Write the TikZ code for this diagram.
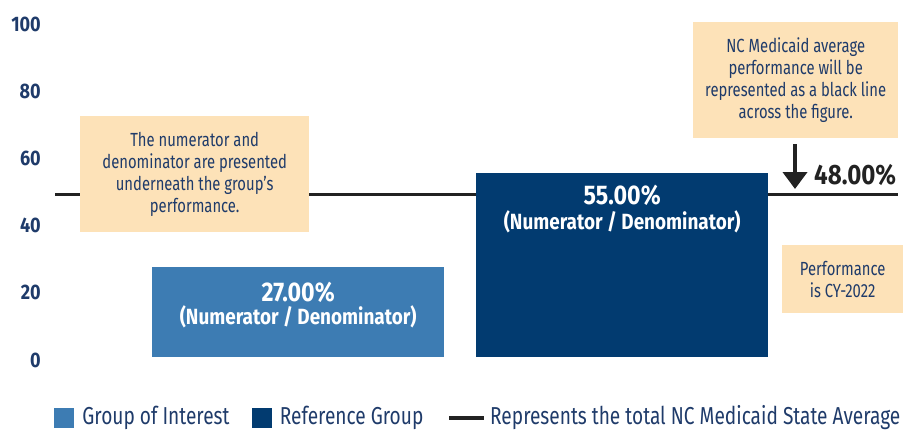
\documentclass[tikz,border=0pt]{standalone}
\usepackage{fontspec}
\setmainfont{Fira Sans}[FakeStretch=0.78, BoldFeatures={FakeStretch=0.86}]
\usepackage{tikz}
\usetikzlibrary{arrows.meta,positioning}
\definecolor{navy}{HTML}{023B70}
\definecolor{lightblue}{HTML}{3D7CB3}
\definecolor{tan}{HTML}{FDE2B8}
\definecolor{textblue}{HTML}{1F3B6A}
\definecolor{avgblack}{HTML}{222222}

\tikzset{
  callout/.style={fill=tan, text=textblue, align=center, inner sep=0pt, anchor=north west,
    font=\fontsize{19}{21.9}\selectfont},
  bar/.style={anchor=north west, inner sep=0pt},
  barval/.style={text=white, font=\bfseries\fontsize{27}{30}\selectfont},
  barsub/.style={text=white, font=\bfseries\fontsize{22}{24}\selectfont},
  ylabel/.style={anchor=east, text=textblue, inner sep=0pt, font=\bfseries\fontsize{21}{22}\selectfont},
  legsq/.style={minimum size=20pt, inner sep=0pt},
  legtext/.style={text=textblue, inner sep=0pt, anchor=west, font=\fontsize{24.5}{26}\selectfont}
}

\begin{document}
\begin{tikzpicture}[x=1pt,y=-1pt]
\useasboundingbox (0,0) rectangle (903,431);
% y axis
\foreach \v in {0,20,...,100}
  \node [ylabel] (tick\v) at (41,360-3.36*\v) {\v};
% state average line
\coordinate (avgl) at (55,194);
\coordinate (avgr) at (898,194);
\draw [line width=3pt,avgblack] (avgl) -- (avgr);
% bars
\node [bar, fill=lightblue, minimum width=292pt, minimum height=90pt] (goi) at (152,267) {};
\node [bar, fill=navy, minimum width=292pt, minimum height=184pt] (ref) at (476,173) {};
\node [barval] (goival) at ([yshift=-25pt]goi.north) {27.00\%};
\node [barsub] (goisub) at ([yshift=-50pt]goi.north) {(Numerator / Denominator)};
\node [barval] (refval) at ([yshift=-22pt]ref.north) {55.00\%};
\node [barsub] (refsub) at ([yshift=-49pt]ref.north) {(Numerator / Denominator)};
% callouts
\node [callout, minimum width=229pt, minimum height=116pt] (numnote) at (80,116)
  {The numerator and\\denominator are presented\\underneath the group’s\\performance.};
\node [callout, minimum width=205pt, minimum height=116pt] (avgnote) at (693,22)
  {NC Medicaid average\\performance will be\\represented as a black line\\across the figure.};
\node [callout, minimum width=121pt, minimum height=68pt] (cynote) at (782,245)
  {Performance\\is CY-2022};
% arrow to the line
\coordinate (arrtop) at (795,144);
\coordinate (arrtip) at (795,189);
\draw [-{Triangle[width=24pt,length=17pt]},line width=4pt,avgblack] (arrtop) -- (arrtip);
\node [anchor=west, inner sep=0pt, text=avgblack, font=\bfseries\fontsize{28}{30}\selectfont] (avgval) at (814,175) {48.00\%};
% legend
\node [legsq, fill=lightblue] (sqgoi) at (64,418) {};
\node [legtext, right=8pt of sqgoi] (txgoi) {Group of Interest};
\node [legsq, fill=navy] (sqref) at (261.5,418) {};
\node [legtext, right=8pt of sqref] (txref) {Reference Group};
\coordinate (legl) at (449,418);
\coordinate (legr) at (484,418);
\draw [line width=4pt,avgblack] (legl) -- (legr);
\node [legtext] (txavg) at (490,418) {Represents the total NC Medicaid State Average};
\end{tikzpicture}
\end{document}
